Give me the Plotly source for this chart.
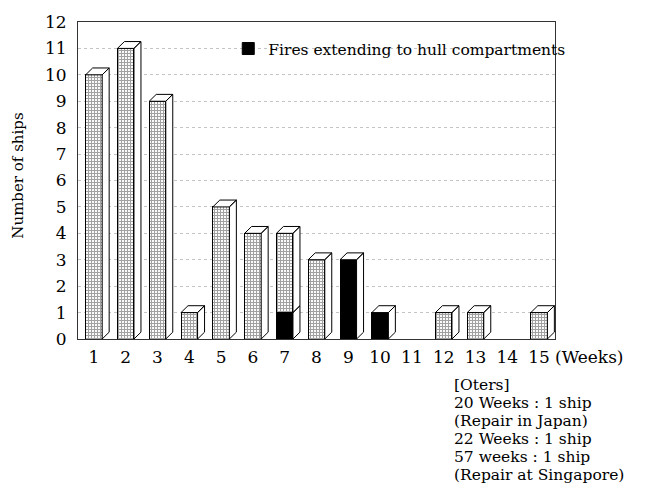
import plotly.graph_objects as go

# Repair period in weeks and number of ships
weeks = list(range(1, 16))
total_ships = [10, 11, 9, 1, 5, 4, 4, 3, 3, 1, 0, 1, 1, 0, 1]
hull_fire_ships = [0, 0, 0, 0, 0, 0, 1, 0, 3, 1, 0, 0, 0, 0, 0]
week_labels = [str(w) for w in weeks]
y_ticks = list(range(0, 13))
notes = ["[Oters]", "20 Weeks : 1 ship", "(Repair in Japan)",
         "22 Weeks : 1 ship", "57 weeks : 1 ship", "(Repair at Singapore)"]

other_ships = [t - h for t, h in zip(total_ships, hull_fire_ships)]

SERIF = "DejaVu Serif, Liberation Serif, serif"
BAR_W = 0.52      # front face width (category units)
DX, DY = 0.22, 0.26  # pseudo-3D depth offsets in data units

fig = go.Figure()

fig.add_trace(go.Bar(
    x=weeks, y=hull_fire_ships, width=BAR_W, name="Fires extending to hull compartments",
    marker=dict(color="black", line=dict(color="black", width=1)),
    showlegend=True,
))
fig.add_trace(go.Bar(
    x=weeks, y=other_ships, width=BAR_W, name="Other fires",
    marker=dict(color="white", line=dict(color="black", width=1),
                pattern=dict(shape="+", size=3, solidity=0.6,
                             fgcolor="#444444", bgcolor="white")),
    showlegend=False,
))

# side and top faces for the 3D look, computed from the stacked values
px, py = [], []
for w, h_fire, h_other in zip(weeks, hull_fire_ships, other_ships):
    xr = w + BAR_W / 2
    xl = w - BAR_W / 2
    segs = []
    if h_fire > 0:
        segs.append((0, h_fire))
    if h_other > 0:
        segs.append((h_fire, h_fire + h_other))
    for b, t in segs:
        px += [xr, xr + DX, xr + DX, xr, xr, None]
        py += [b, b + DY, t + DY, t, b, None]
    top = h_fire + h_other
    if top > 0:
        px += [xl, xl + DX, xr + DX, xr, xl, None]
        py += [top, top + DY, top + DY, top, top, None]

fig.add_trace(go.Scatter(
    x=px, y=py, mode="lines", fill="toself", fillcolor="white",
    line=dict(color="black", width=1), hoverinfo="skip",
    showlegend=False, cliponaxis=False,
))

fig.update_layout(
    width=650, height=503,
    margin=dict(l=78, r=95, t=15, b=164),
    plot_bgcolor="white", paper_bgcolor="white",
    barmode="stack", bargap=0.5,
    font=dict(family=SERIF, color="black", size=17),
    legend=dict(x=0.315, y=0.915, xanchor="left", yanchor="middle",
                bgcolor="rgba(0,0,0,0)", font=dict(size=15.5, family=SERIF),
                itemwidth=30, traceorder="normal"),
    xaxis=dict(
        range=[0.5, 15.5], tickmode="array", tickvals=weeks, ticktext=week_labels,
        showgrid=False, zeroline=False, showline=True, mirror=True,
        linecolor="#333333", linewidth=1, ticks="", ticklabelstandoff=3,
        tickfont=dict(size=17, family=SERIF),
    ),
    yaxis=dict(
        range=[0, 12], tickmode="array", tickvals=y_ticks,
        showgrid=True, gridcolor="#c4c4c4", griddash="dot", gridwidth=1,
        zeroline=False, showline=True, mirror=True,
        linecolor="#333333", linewidth=1, ticks="", ticklabelstandoff=7,
        tickfont=dict(size=17, family=SERIF),
    ),
)

fig.add_annotation(
    text="Number of ships", textangle=-90, xref="paper", yref="paper",
    x=-0.126, y=0.515, xanchor="center", yanchor="middle", showarrow=False,
    font=dict(size=15, family=SERIF),
)
fig.add_annotation(
    text="(Weeks)", xref="x", yref="paper", x=15.5, y=0, yanchor="top",
    xanchor="left", yshift=-6, xshift=-2, showarrow=False,
    font=dict(size=17, family=SERIF),
)
for i, line in enumerate(notes):
    fig.add_annotation(
        text=line, xref="paper", yref="paper", x=(452 - 78) / 477,
        y=(339 - 386 - 18.3 * i) / 324, xanchor="left", yanchor="middle",
        showarrow=False, font=dict(size=15.5, family=SERIF),
    )

fig.write_html("out.html")
